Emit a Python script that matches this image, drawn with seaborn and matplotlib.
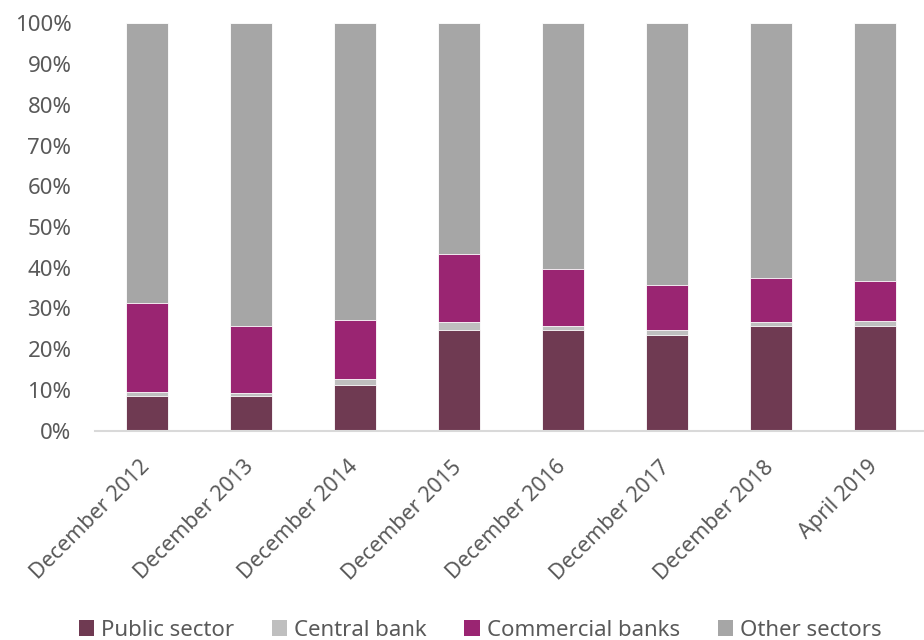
import matplotlib
matplotlib.use("Agg")
import matplotlib.pyplot as plt
from matplotlib.patches import Patch
import numpy as np
import pandas as pd
import seaborn as sns

# Share of holdings by sector (percent of total)
periods = ["December 2012", "December 2013", "December 2014", "December 2015",
           "December 2016", "December 2017", "December 2018", "April 2019"]
public_sector = [8.4, 8.4, 11.1, 24.8, 24.7, 23.5, 25.6, 25.8]
central_bank = [1.0, 0.8, 1.6, 1.9, 1.1, 1.1, 1.1, 1.2]
commercial_banks = [22.0, 16.4, 14.5, 16.6, 13.8, 11.1, 10.7, 9.7]
other_sectors = [100 - a - b - c for a, b, c in zip(public_sector, central_bank, commercial_banks)]

series_names = ["Public sector", "Central bank", "Commercial banks", "Other sectors"]
series_values = [public_sector, central_bank, commercial_banks, other_sectors]
colors = ["#6F3A52", "#BFBFBF", "#9A2572", "#A6A6A6"]

sns.set_theme(style="white")
plt.rcParams["font.family"] = ["Noto Sans", "DejaVu Sans"]
text_color = "#595959"

df = pd.DataFrame({"period": periods})
cum = np.cumsum(np.array(series_values), axis=0)
for name, c in zip(series_names, cum):
    df[name] = c

W, H = 924, 640
fig = plt.figure(figsize=(W / 100, H / 100), dpi=100)
left, right = 95, 927
top, bottom = 23.3, 430.7
ax = fig.add_axes([left / W, 1 - bottom / H, (right - left) / W, (bottom - top) / H])

# Stack by overlaying cumulative totals, tallest first
for name, color in reversed(list(zip(series_names, colors))):
    sns.barplot(data=df, x="period", y=name, color=color, width=0.4,
                saturation=1, edgecolor="white", linewidth=0.6, ax=ax)

ax.set_ylim(0, 100)
ax.set_xlim(-0.5, 7.5)
ax.set_yticks(np.arange(0, 101, 10))
ax.set_yticklabels([f"{v}%" for v in range(0, 101, 10)])
ax.set_xlabel("")
ax.set_ylabel("")
for s in ["left", "right", "top"]:
    ax.spines[s].set_visible(False)
ax.spines["bottom"].set_color("#D9D9D9")
ax.spines["bottom"].set_linewidth(1.5)
ax.tick_params(axis="y", length=0, pad=17, labelsize=16, labelcolor=text_color)
ax.tick_params(axis="x", length=0, pad=24, labelsize=15.5, labelcolor=text_color)
for lbl in ax.get_xticklabels():
    lbl.set_rotation(45)
    lbl.set_ha("right")
    lbl.set_va("center")
    lbl.set_rotation_mode("anchor")

handles = [Patch(facecolor=c, edgecolor="none") for c in colors]
leg = fig.legend(handles, series_names, loc="center", bbox_to_anchor=(480 / W, 1 - 630 / H),
                 ncol=4, frameon=False, fontsize=16, handlelength=0.7, handleheight=0.7,
                 handletextpad=0.3, columnspacing=1.7, labelcolor=text_color,
                 borderpad=0)

fig.savefig("out.png", dpi=100)
